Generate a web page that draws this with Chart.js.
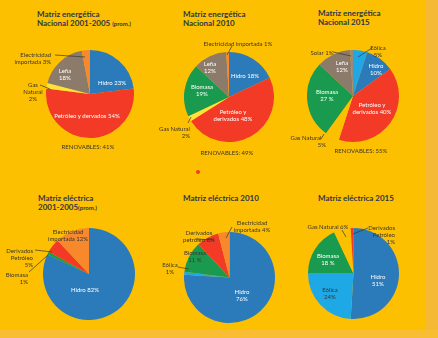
<!DOCTYPE html>
<html lang="es">
<head>
<meta charset="UTF-8">
<title>Matriz energética y eléctrica</title>
<script src="https://cdn.jsdelivr.net/npm/chart.js"></script>
<style>
    body { margin: 0; width: 438px; height: 338px; background: #fcc000; position: relative; overflow: hidden; font-family: Lato, 'Open Sans', sans-serif; }
    .franja-der { position: absolute; left: 425px; top: 0; width: 13px; height: 338px; background: #f6b936; }
    .franja-inf { position: absolute; left: 0; top: 330px; width: 438px; height: 8px; background: #f8bd33; }
    .titulo { position: absolute; font-weight: 700; font-size: 8px; line-height: 9px; color: #2e3548; white-space: nowrap; }
    .titulo small { font-size: 6px; }
    .et { position: absolute; font-size: 6px; line-height: 7px; text-align: center; white-space: nowrap; transform: translate(-50%, -50%); color: #3a3530; }
    .et.der { text-align: right; transform: translate(-100%, -50%); }
    .blanco { color: #fff; }
    canvas { position: absolute; }
    svg { position: absolute; left: 0; top: 0; }
    .punto { position: absolute; left: 196px; top: 170px; width: 4px; height: 4px; border-radius: 2px; background: #f23a26; }
</style>
</head>
<body>
<div class="franja-der"></div>
<div class="franja-inf"></div>

<!-- titulos -->
<div class="titulo" style="left:37px; top:10px">Matriz energética<br>Nacional 2001-2005 <small>(prom.)</small></div>
<div class="titulo" style="left:183px; top:10px">Matriz energética<br>Nacional 2010</div>
<div class="titulo" style="left:318px; top:9px">Matriz energética<br>Nacional 2015</div>
<div class="titulo" style="left:38px; top:194px">Matriz eléctrica<br>2001-2005<small>(prom.)</small></div>
<div class="titulo" style="left:183px; top:194px">Matriz eléctrica 2010</div>
<div class="titulo" style="left:318px; top:194px">Matriz eléctrica 2015</div>

<canvas id="g1" width="88" height="88" style="left:46px; top:50px"></canvas>
<canvas id="g2" width="90" height="90" style="left:184px; top:52px"></canvas>
<canvas id="g3" width="92" height="92" style="left:307px; top:50px"></canvas>
<canvas id="g4" width="92" height="92" style="left:43px; top:228px"></canvas>
<canvas id="g5" width="91" height="91" style="left:184px; top:232px"></canvas>
<canvas id="g6" width="91" height="91" style="left:308px; top:228px"></canvas>

<svg width="438" height="338">
    <g stroke="#3a3530" stroke-width="0.7">
        <line x1="55" y1="55" x2="85" y2="57" />
        <line x1="40" y1="85" x2="50" y2="89" />
        <line x1="232" y1="46" x2="227" y2="55" />
        <line x1="188" y1="123" x2="191" y2="117" />
        <line x1="333" y1="52" x2="351" y2="56" />
        <line x1="372" y1="48" x2="358" y2="57" />
        <line x1="321" y1="139" x2="324" y2="134" />
        <line x1="35" y1="250" x2="52" y2="252" />
        <line x1="29" y1="272" x2="48" y2="255" />
        <line x1="232" y1="227" x2="226" y2="238" />
        <line x1="196" y1="239" x2="214" y2="240" />
        <line x1="178" y1="267" x2="189" y2="269" />
        <line x1="342" y1="230" x2="346" y2="237" />
        <line x1="368" y1="228" x2="353" y2="234" />
    </g>
</svg>

<!-- etiquetas grafico 1 -->
<div class="et der" style="left:51px; top:58px">Electricidad<br>importada 3%</div>
<div class="et" style="left:33px; top:91px">Gas<br>Natural<br>2%</div>
<div class="et blanco" style="left:65px; top:74px">Leña<br>18%</div>
<div class="et blanco" style="left:112px; top:82px">Hidro 23%</div>
<div class="et blanco" style="left:87px; top:115px">Petróleo y dervados 54%</div>
<div class="et" style="left:88px; top:146px">RENOVABLES: 41%</div>

<!-- etiquetas grafico 2 -->
<div class="et" style="left:238px; top:43px">Electricidad importada 1%</div>
<div class="et blanco" style="left:245px; top:75px">Hidro 18%</div>
<div class="et blanco" style="left:210px; top:67px">Leña<br>12%</div>
<div class="et blanco" style="left:202px; top:90px">Biomasa<br>19%</div>
<div class="et blanco" style="left:233px; top:115px">Petróleo y<br>derivados 48%</div>
<div class="et der" style="left:190px; top:132px">Gas Natural<br>2%</div>
<div class="et" style="left:227px; top:152px">RENOVABLES: 49%</div>

<!-- etiquetas grafico 3 -->
<div class="et" style="left:322px; top:52px">Solar 1%</div>
<div class="et" style="left:378px; top:51px">Eólica<br>5%</div>
<div class="et blanco" style="left:342px; top:66px">Leña<br>12%</div>
<div class="et blanco" style="left:376px; top:69px">Hidro<br>10%</div>
<div class="et blanco" style="left:327px; top:95px">Biomasa<br>27 %</div>
<div class="et blanco" style="left:372px; top:108px">Petróleo y<br>derivados 40%</div>
<div class="et" style="left:306px; top:137px">Gas Natural</div>
<div class="et" style="left:322px; top:144px">5%</div>
<div class="et" style="left:361px; top:150px">RENOVABLES: 55%</div>

<!-- etiquetas grafico 4 -->
<div class="et" style="left:68px; top:235px">Electricidad<br>importada 12%</div>
<div class="et der" style="left:33px; top:257px">Derivados<br>Petróleo<br>5%</div>
<div class="et der" style="left:28px; top:278px">Biomasa<br>1%</div>
<div class="et blanco" style="left:85px; top:289px">Hidro 82%</div>

<!-- etiquetas grafico 5 -->
<div class="punto"></div>
<div class="et" style="left:252px; top:226px">Electricidad<br>importada 4%</div>
<div class="et" style="left:199px; top:236px">Derivados<br>petróleo 8%</div>
<div class="et" style="left:195px; top:256px">Biomasa<br>11 %</div>
<div class="et" style="left:170px; top:268px">Eólica<br>1%</div>
<div class="et blanco" style="left:242px; top:295px">Hidro<br>76%</div>

<!-- etiquetas grafico 6 -->
<div class="et" style="left:328px; top:226px">Gas Natural 6%</div>
<div class="et der" style="left:395px; top:234px">Derivados<br>Petróleo<br>1%</div>
<div class="et blanco" style="left:328px; top:259px">Biomasa<br>18 %</div>
<div class="et blanco" style="left:378px; top:280px">Hidro<br>51%</div>
<div class="et" style="left:330px; top:293px">Eólica<br>24%</div>

<script>
    // colores por fuente
    const AZUL = '#2b7bba';
    const CELESTE = '#1fa8e6';
    const ROJO = '#f23a26';
    const CAFE = '#8c7b6b';
    const VERDE = '#1a9a4e';
    const NARANJA = '#f7892c';
    const AMARILLO = '#fde23a';
    const FONDO = '#fcc000';

    // Matriz energética 2001-2005
    const energia2005Labels = ['Hidro', 'Petróleo y derivados', 'Gas Natural', 'Leña', 'Electricidad importada'];
    const energia2005Valores = [23, 54, 2, 18, 3];
    const energia2005Colores = [AZUL, ROJO, AMARILLO, CAFE, NARANJA];

    // Matriz energética 2010
    const energia2010Labels = ['Hidro', 'Petróleo y derivados', 'Gas Natural', 'Biomasa', 'Leña', 'Electricidad importada'];
    const energia2010Valores = [18, 48, 2, 19, 12, 1];
    const energia2010Colores = [AZUL, ROJO, AMARILLO, VERDE, CAFE, NARANJA];

    // Matriz energética 2015
    const energia2015Labels = ['Eólica', 'Hidro', 'Petróleo y derivados', 'Gas Natural', 'Biomasa', 'Leña', 'Solar'];
    const energia2015Valores = [5, 10, 40, 5, 27, 12, 1];
    const energia2015Colores = [CELESTE, AZUL, ROJO, FONDO, VERDE, CAFE, '#9a8a7a'];

    // Matriz eléctrica 2001-2005
    const electrica2005Labels = ['Hidro', 'Biomasa', 'Derivados Petróleo', 'Electricidad importada'];
    const electrica2005Valores = [82, 1, 5, 12];
    const electrica2005Colores = [AZUL, VERDE, ROJO, NARANJA];

    // Matriz eléctrica 2010
    const electrica2010Labels = ['Hidro', 'Eólica', 'Biomasa', 'Derivados petróleo', 'Electricidad importada'];
    const electrica2010Valores = [76, 1, 11, 8, 4];
    const electrica2010Colores = [AZUL, CELESTE, VERDE, ROJO, NARANJA];

    // Matriz eléctrica 2015
    const electrica2015Labels = ['Hidro', 'Eólica', 'Biomasa', 'Gas Natural', 'Derivados Petróleo'];
    const electrica2015Valores = [51, 24, 18, 6, 1];
    const electrica2015Colores = [AZUL, CELESTE, VERDE, FONDO, ROJO];

    function crearTorta(id, labels, valores, colores) {
        return new Chart(document.getElementById(id), {
            type: 'pie',
            data: {
                labels: labels,
                datasets: [{
                    data: valores,
                    backgroundColor: colores,
                    borderWidth: 0
                }]
            },
            options: {
                responsive: false,
                animation: false,
                devicePixelRatio: 1,
                layout: { padding: 0 },
                plugins: {
                    legend: { display: false },
                    tooltip: { enabled: false }
                }
            }
        });
    }

    crearTorta('g1', energia2005Labels, energia2005Valores, energia2005Colores);
    crearTorta('g2', energia2010Labels, energia2010Valores, energia2010Colores);
    crearTorta('g3', energia2015Labels, energia2015Valores, energia2015Colores);
    crearTorta('g4', electrica2005Labels, electrica2005Valores, electrica2005Colores);
    crearTorta('g5', electrica2010Labels, electrica2010Valores, electrica2010Colores);
    crearTorta('g6', electrica2015Labels, electrica2015Valores, electrica2015Colores);
</script>
</body>
</html>
